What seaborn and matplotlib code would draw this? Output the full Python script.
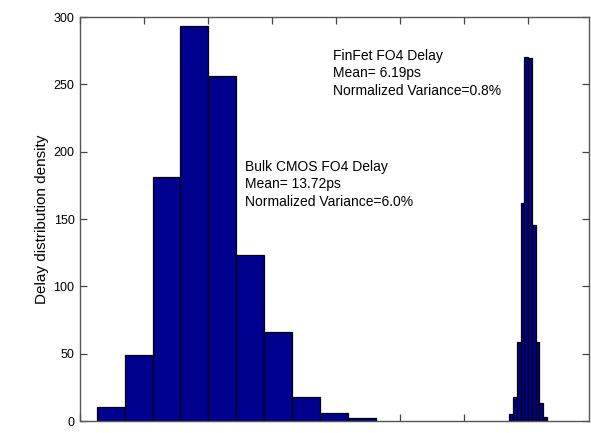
import numpy as np
import pandas as pd
import matplotlib
matplotlib.use("Agg")
import matplotlib.pyplot as plt
import seaborn as sns

# ---- data ----
bulk_edges = [0.261 + 0.436 * i for i in range(11)]
bulk_heights = [10.6, 48.8, 181, 293, 256, 123, 66, 17.8, 5.6, 2.2]
finfet_edges = [6.708 + 0.0589 * i for i in range(11)]
finfet_heights = [5.5, 18, 59, 162, 270.5, 269.5, 145.5, 59, 13, 3]
x_ticks = [0, 1, 2, 3, 4, 5, 6, 7]
y_ticks = [0, 50, 100, 150, 200, 250, 300]
bulk_text = ["Bulk CMOS FO4 Delay", "Mean= 13.72ps", "Normalized Variance=6.0%"]
finfet_text = ["FinFet FO4 Delay", "Mean= 6.19ps", "Normalized Variance=0.8%"]

sns.set_style("white")
plt.rcParams["font.family"] = ["Liberation Sans", "DejaVu Sans"]

W, H = 591, 433
fig = plt.figure(figsize=(W / 100, H / 100), dpi=100)
ax = fig.add_axes([80 / W, (H - 421) / H, 509 / W, 404 / H])

def centers(edges):
    return [(edges[i] + edges[i + 1]) / 2 for i in range(len(edges) - 1)]

bulk_df = pd.DataFrame({"x": centers(bulk_edges), "w": bulk_heights})
fin_df = pd.DataFrame({"x": centers(finfet_edges), "w": finfet_heights})

bar_kw = dict(color="#00008F", edgecolor="black", linewidth=0.9, alpha=1.0)
sns.histplot(data=bulk_df, x="x", weights="w", bins=bulk_edges, ax=ax, **bar_kw)
sns.histplot(data=fin_df, x="x", weights="w", bins=finfet_edges, ax=ax, **bar_kw)

ax.set_xlim(0, 509 / 64)
ax.set_ylim(0, 300)
ax.set_xticks(x_ticks)
ax.set_xticklabels([])
ax.set_yticks(y_ticks)
ax.set_yticklabels([str(v) for v in y_ticks], fontsize=9, color="black")
ax.set_xlabel("")
ax.set_ylabel("Delay distribution density", fontsize=11, labelpad=3, color="black")
ax.set_axisbelow(True)
ax.tick_params(direction="in", length=5, width=0.9, color="#444444",
               top=True, right=True, bottom=True, left=True, pad=4)
for s in ax.spines.values():
    s.set_visible(True)
    s.set_color("#555555")
    s.set_linewidth(1.0)

ax.text(245 / 64 - 80 / 64, 300 - (160 - 17) / (404 / 300), "\n".join(bulk_text),
        fontsize=10, va="top", ha="left", linespacing=1.3, color="black")
ax.text(333 / 64 - 80 / 64, 300 - (49 - 17) / (404 / 300), "\n".join(finfet_text),
        fontsize=10, va="top", ha="left", linespacing=1.3, color="black")

fig.savefig("out.png", dpi=100)
